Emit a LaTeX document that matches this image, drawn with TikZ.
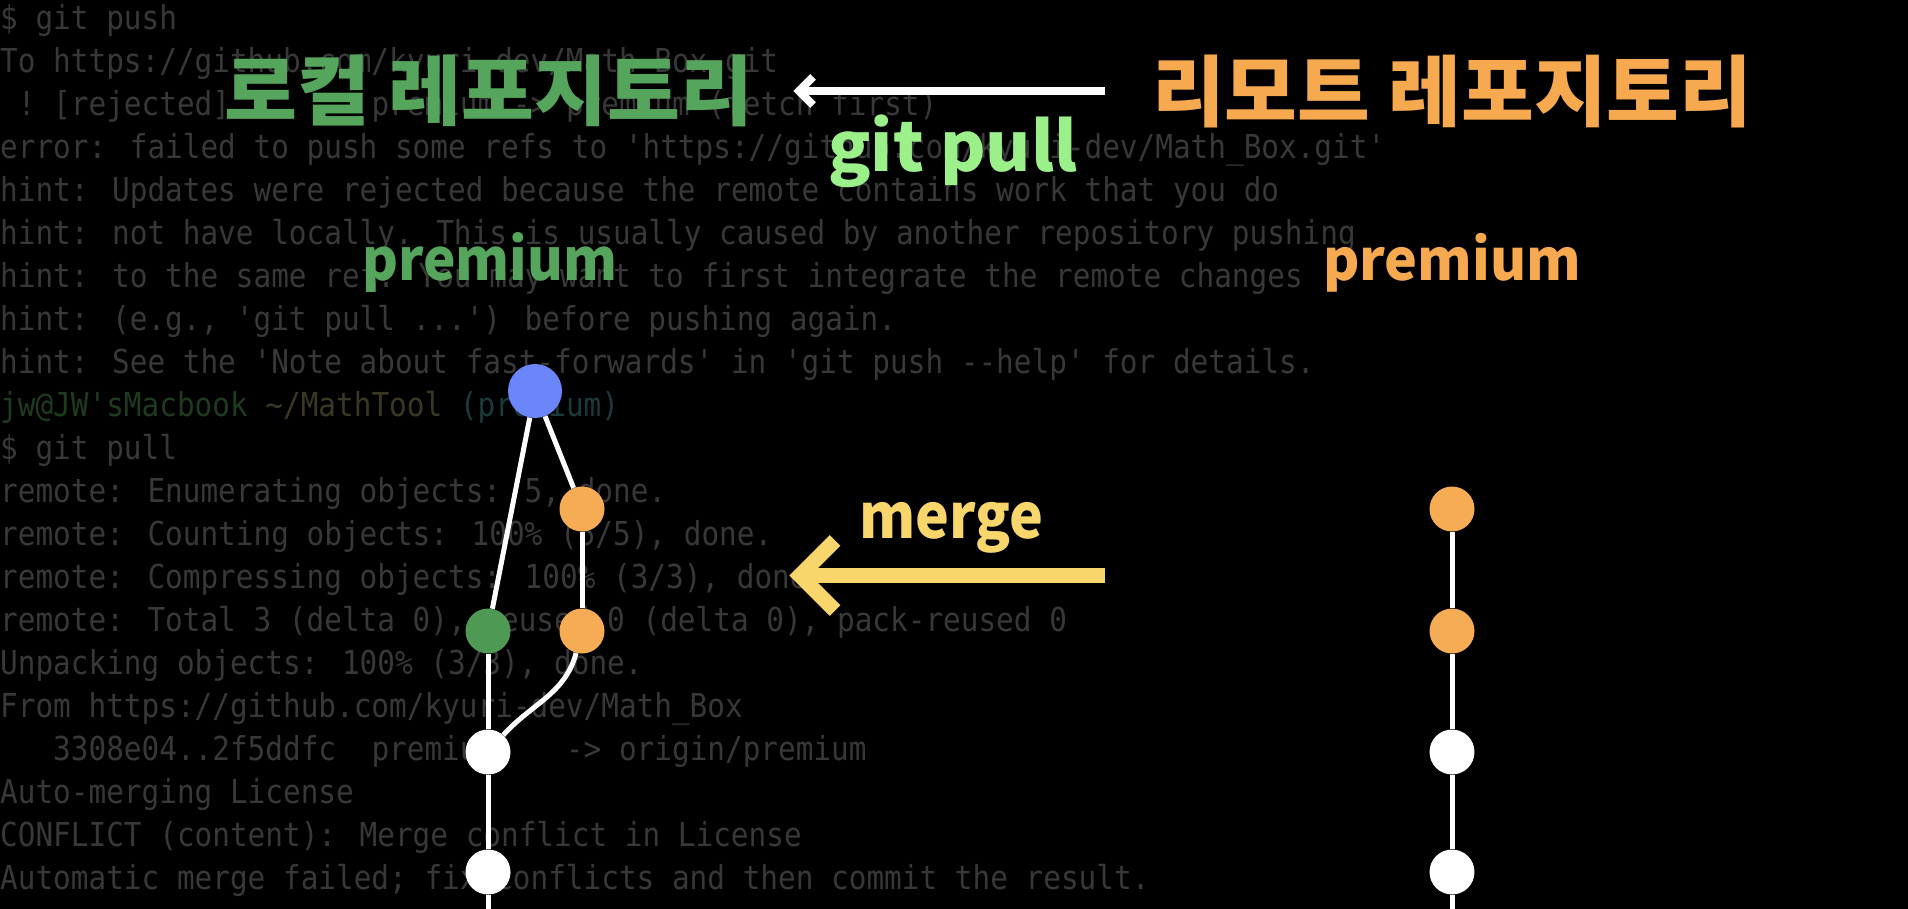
\documentclass[tikz,border=0pt]{standalone}
\usepackage{fontspec}
\newfontfamily\termfont{DejaVu Sans Mono}[FakeStretch=0.89, Ligatures=TeXOff]
\newfontfamily\labelfont{Noto Sans CJK KR}

\definecolor{termgray}{HTML}{383838}
\definecolor{promptuser}{HTML}{1E3B20}
\definecolor{promptpath}{HTML}{3A3822}
\definecolor{promptbranch}{HTML}{1A3A3C}
\definecolor{localgreen}{HTML}{55A65C}
\definecolor{remoteorange}{HTML}{F6A94F}
\definecolor{pullgreen}{HTML}{9CF08A}
\definecolor{mergeyellow}{HTML}{F8D66B}
\definecolor{headblue}{HTML}{6A86F8}
\definecolor{commitorange}{HTML}{F6AC55}
\definecolor{commitgreen}{HTML}{4E9A55}

\tikzset{
  termline/.style={anchor=base west, inner sep=0pt, text=termgray,
    font={\termfont\fontsize{33}{40}\selectfont}},
  biglabel/.style={anchor=north west, inner sep=0pt},
  commit/.style={circle, inner sep=0pt, minimum size=45pt, draw=none},
  gitline/.style={draw=white, line width=5pt},
}

\begin{document}
\begin{tikzpicture}[x=1pt,y=-1pt]
\fill[black] (0,0) rectangle (1908,909);
\useasboundingbox (0,0) rectangle (1908,909);
\clip (0,0) rectangle (1908,909);

% terminal output in the background
\node[termline] (t1)  at (0,30.0)  {\$ git push};
\node[termline] (t2)  at (0,72.95) {To https://github.com/kyuri-dev/Math\_Box.git};
\node[termline] (t3)  at (0,115.9) {\ !\ [rejected]\ \ \ \ \ \ \ \ premium\ ->\ premium\ (fetch\ first)};
\node[termline] (t4)  at (0,158.85) {error: failed to push some refs to 'https://github.com/kyuri-dev/Math\_Box.git'};
\node[termline] (t5)  at (0,201.8) {hint: Updates were rejected because the remote contains work that you do};
\node[termline] (t6)  at (0,244.75) {hint: not have locally. This is usually caused by another repository pushing};
\node[termline] (t7)  at (0,287.7) {hint: to the same ref. You may want to first integrate the remote changes};
\node[termline] (t8)  at (0,330.65) {hint: (e.g., 'git pull ...') before pushing again.};
\node[termline] (t9)  at (0,373.6) {hint: See the 'Note about fast-forwards' in 'git push --help' for details.};
\node[termline] (t10) at (0,416.55) {\textcolor{promptuser}{jw@JW'sMacbook}\ \textcolor{promptpath}{\textasciitilde/MathTool}\ \textcolor{promptbranch}{(premium)}};
\node[termline] (t11) at (0,459.5) {\$ git pull};
\node[termline] (t12) at (0,502.45) {remote: Enumerating objects: 5, done.};
\node[termline] (t13) at (0,545.4) {remote: Counting objects: 100\% (5/5), done.};
\node[termline] (t14) at (0,588.35) {remote: Compressing objects: 100\% (3/3), done.};
\node[termline] (t15) at (0,631.3) {remote: Total 3 (delta 0), reused 0 (delta 0), pack-reused 0};
\node[termline] (t16) at (0,674.25) {Unpacking objects: 100\% (3/3), done.};
\node[termline] (t17) at (0,717.2) {From https://github.com/kyuri-dev/Math\_Box};
\node[termline] (t18) at (0,760.15) {\ \ \ 3308e04..2f5ddfc\ \ premium\ \ \ \ ->\ origin/premium};
\node[termline] (t19) at (0,803.1) {Auto-merging License};
\node[termline] (t20) at (0,846.05) {CONFLICT (content): Merge conflict in License};
\node[termline] (t21) at (0,889.0) {Automatic merge failed; fix conflicts and then commit the result.};
\node[termline] (t22) at (0,935) {\textcolor{promptuser}{jw@JW'sMacbook}\ \textcolor{promptpath}{\textasciitilde/MathTool}\ \textcolor{promptbranch}{(premium|MERGING)}};

% local history
\node[commit, fill=headblue, minimum size=54pt] (head) at (535,391) {};
\node[commit, fill=commitorange] (lo1) at (582,509) {};
\node[commit, fill=commitorange] (lo2) at (582,631) {};
\node[commit, fill=commitgreen]  (lg)  at (488,631) {};
\node[commit, fill=white] (lw1) at (488,752) {};
\node[commit, fill=white] (lw2) at (488,872) {};
\coordinate (lend) at (488,925);

\draw[gitline] (head) -- (lg);
\draw[gitline] (head) -- (lo1);
\draw[gitline] (lo1) -- (lo2);
\draw[gitline] (lo2) to[out=-105, in=48] (lw1);
\draw[gitline] (lg) -- (lw1);
\draw[gitline] (lw1) -- (lw2);
\draw[gitline] (lw2) -- (lend);

% remote history
\node[commit, fill=commitorange] (ro1) at (1452,509) {};
\node[commit, fill=commitorange] (ro2) at (1452,631) {};
\node[commit, fill=white] (rw1) at (1452,752) {};
\node[commit, fill=white] (rw2) at (1452,872) {};
\coordinate (rend) at (1452,925);

\draw[gitline] (ro1) -- (ro2);
\draw[gitline] (ro2) -- (rw1);
\draw[gitline] (rw1) -- (rw2);
\draw[gitline] (rw2) -- (rend);

% git pull arrow
\coordinate (pullfrom) at (1105,91);
\coordinate (pulltip)  at (799,91);
\coordinate (pullarmA) at (813,77);
\coordinate (pullarmB) at (813,105);
\draw[white, line width=8pt] (pullfrom) -- (pulltip);
\draw[white, line width=8pt, miter limit=10] (pullarmA) -- (pulltip) -- (pullarmB);

% merge arrow
\coordinate (mergefrom) at (1105,575.5);
\coordinate (mergetip)  at (800,575.5);
\coordinate (mergearmA) at (835,540.5);
\coordinate (mergearmB) at (835,610.5);
\draw[mergeyellow, line width=15pt] (mergefrom) -- (mergetip);
\draw[mergeyellow, line width=15pt, miter limit=10] (mergearmA) -- (mergetip) -- (mergearmB);

% labels
\node[biglabel, text=localgreen] (localrepo) at (224,55)
  {\resizebox*{529pt}{72pt}{\labelfont\bfseries 로컬 레포지토리}};
\node[biglabel, text=remoteorange] (remoterepo) at (1152,55)
  {\resizebox*{600pt}{73pt}{\labelfont\bfseries 리모트 레포지토리}};
\node[biglabel, text=pullgreen] (pulllabel) at (828,115)
  {\resizebox*{249pt}{73pt}{\labelfont\bfseries git pull}};
\node[biglabel, text=localgreen] (localbranch) at (362,232)
  {\resizebox*{255pt}{60pt}{\labelfont\bfseries premium}};
\node[biglabel, text=remoteorange] (remotebranch) at (1323,233)
  {\resizebox*{258pt}{59pt}{\labelfont\bfseries premium}};
\node[biglabel, text=mergeyellow] (mergelabel) at (859,502)
  {\resizebox*{184pt}{51pt}{\labelfont\bfseries merge}};
\end{tikzpicture}
\end{document}
